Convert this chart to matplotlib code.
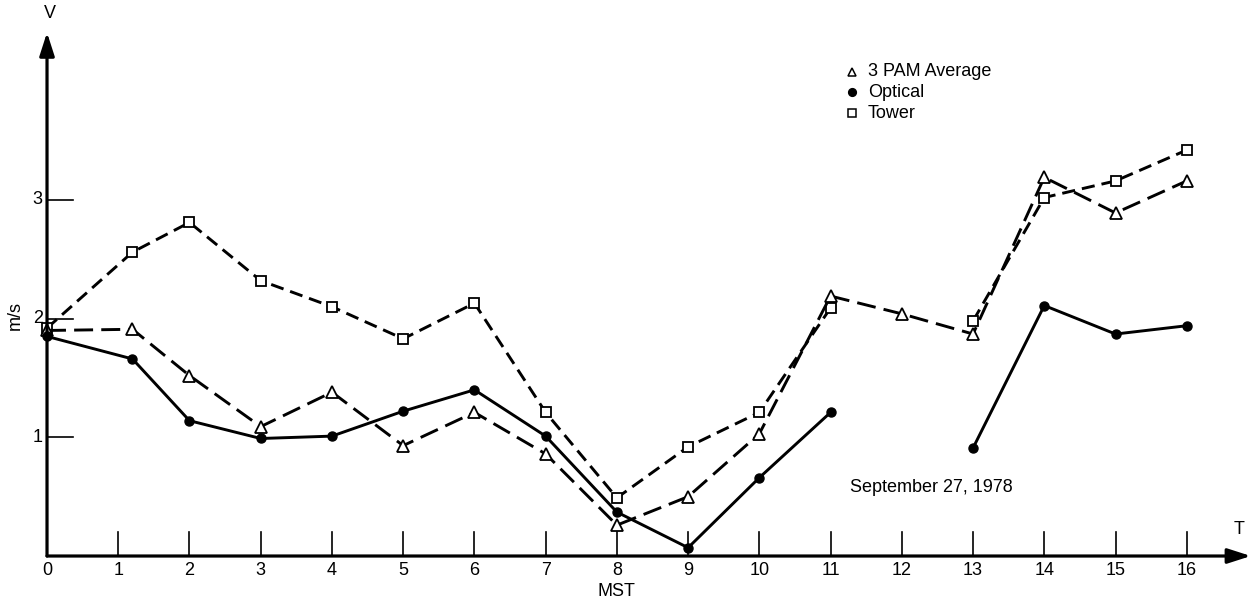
import numpy as np
import matplotlib
matplotlib.use("Agg")
from matplotlib import pyplot as plt

# wind speed (m/s) vs time of day (MST), September 27, 1978
hours = [0, 1.2, 2, 3, 4, 5, 6, 7, 8, 9, 10, 11, 12, 13, 14, 15, 16]
pam_avg = [1.90, 1.91, 1.52, 1.09, 1.38, 0.93, 1.21, 0.86, 0.26, 0.50,
           1.03, 2.19, 2.04, 1.87, 3.19, 2.89, 3.16]
optical = [1.85, 1.66, 1.14, 0.99, 1.01, 1.22, 1.40, 1.01, 0.37, 0.07,
           0.66, 1.21, np.nan, 0.91, 2.11, 1.87, 1.94]
tower = [1.92, 2.56, 2.81, 2.32, 2.10, 1.83, 2.13, 1.21, 0.49, 0.92,
         1.21, 2.09, np.nan, 1.98, 3.02, 3.16, 3.42]

x_ticks = list(range(1, 17))
y_ticks = [1, 2, 3]

plt.rcParams['font.family'] = ['Liberation Sans', 'DejaVu Sans']
fs = 13

fig = plt.figure(figsize=(12.53, 6.01), dpi=100)
ax = fig.add_axes([0, 0, 1, 1])
ax.set_xlim(-0.66, 16.93)
ax.set_ylim(-0.379, 4.684)
ax.axis('off')

lw = 2.1
ax.plot(hours, tower, color='black', lw=lw, dashes=(4.5, 2.4),
        marker='s', ms=6.5, mfc='white', mec='black', mew=1.3, zorder=3)
ax.plot(hours, pam_avg, color='black', lw=lw, dashes=(6.5, 2.8),
        marker='^', ms=8, mfc='white', mec='black', mew=1.3, zorder=3)
ax.plot(hours, optical, color='black', lw=lw, ls='-',
        marker='o', ms=6.5, mfc='black', mec='black', zorder=4)

# axes with arrow heads
ax.annotate('', xy=(0, 4.41), xytext=(0, 0),
            arrowprops=dict(arrowstyle='-|>,head_length=1.4,head_width=0.45',
                            lw=2.3, color='black', shrinkA=0, shrinkB=0))
ax.annotate('', xy=(16.9, 0), xytext=(0, 0),
            arrowprops=dict(arrowstyle='-|>,head_length=1.4,head_width=0.45',
                            lw=2.3, color='black', shrinkA=0, shrinkB=0))

for t in x_ticks:
    ax.plot([t, t], [0, 0.2], color='black', lw=1.2)
    ax.text(t, -0.05, str(t), ha='center', va='top', fontsize=fs)
ax.text(0, -0.05, '0', ha='center', va='top', fontsize=fs)

for v in y_ticks:
    ax.plot([0, 0.36], [v, v], color='black', lw=1.2)
    ax.text(-0.06, v, str(v), ha='right', va='center', fontsize=fs)

ax.text(0.04, 4.57, 'V', ha='center', va='center', fontsize=fs)
ax.text(16.74, 0.22, 'T', ha='center', va='center', fontsize=fs)
ax.text(8.0, -0.3, 'MST', ha='center', va='center', fontsize=fs)
ax.text(-0.45, 2.03, 'm/s', ha='center', va='center', rotation=90, fontsize=fs)
ax.text(11.27, 0.58, 'September 27, 1978', ha='left', va='center', fontsize=fs)

# legend drawn as marker + text rows
legend_rows = [('^', 'white', '3 PAM Average'),
               ('o', 'black', 'Optical'),
               ('s', 'white', 'Tower')]
for i, (m, fc, label) in enumerate(legend_rows):
    y = 4.08 - i * 0.175
    ax.plot([11.3], [y], marker=m, ms=6 if m != 'o' else 5.5,
            mfc=fc, mec='black', mew=1.1, color='black')
    ax.text(11.52, y, label, ha='left', va='center', fontsize=fs)

fig.savefig('out.png', dpi=100)
